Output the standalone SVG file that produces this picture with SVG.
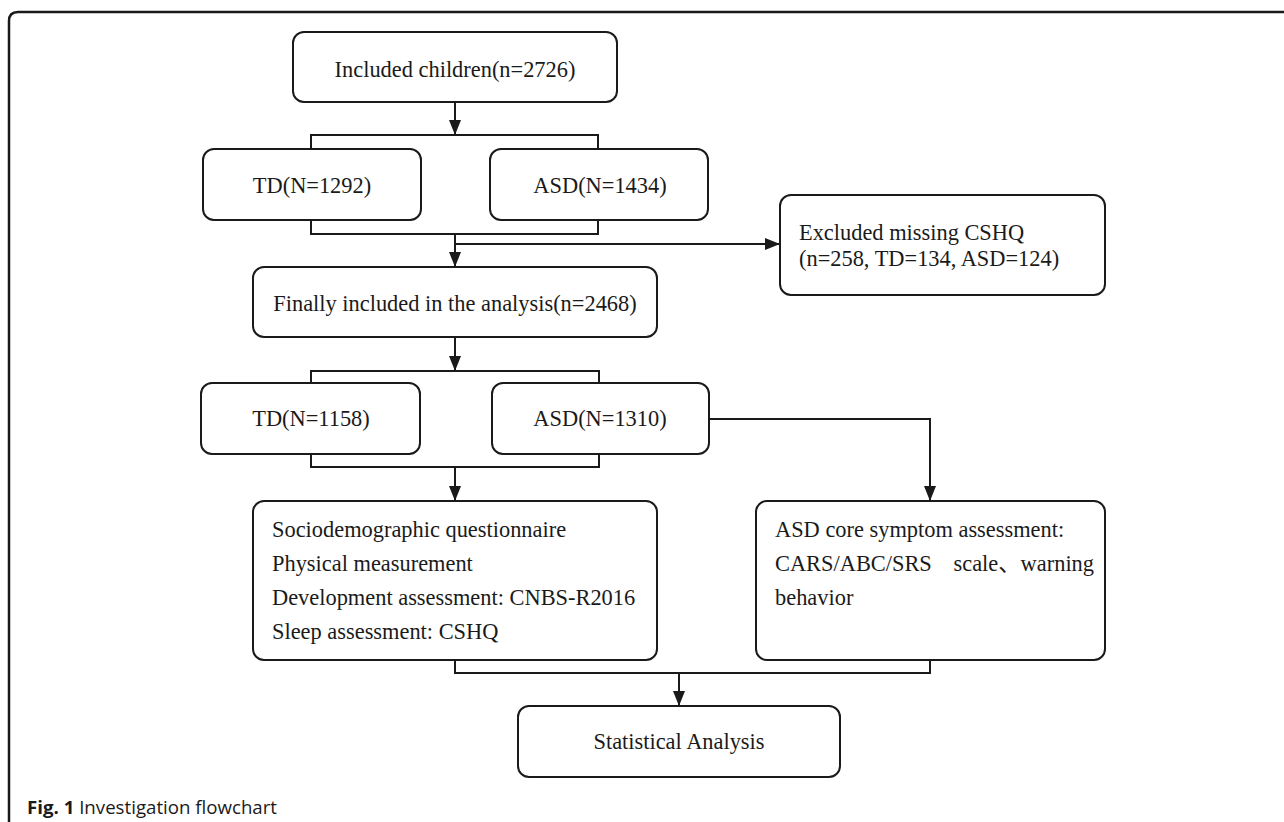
<svg xmlns="http://www.w3.org/2000/svg" width="1284" height="822" viewBox="0 0 1284 822">
<style>
.box{fill:#fff;stroke:#1a1a1a;stroke-width:2}
.t{font-family:"Liberation Serif","Times New Roman","Noto Sans CJK SC",serif;font-size:22.4px;fill:#1a1a1a}
.c{text-anchor:middle}
.ln{fill:none;stroke:#1a1a1a;stroke-width:2}
.cap{font-family:"Open Sans","Liberation Sans",sans-serif;font-size:17.5px;fill:#1a1a1a}
</style>
<defs>
<marker id="ah" markerUnits="userSpaceOnUse" markerWidth="15" markerHeight="12" refX="15" refY="6" orient="auto" viewBox="0 0 15 12">
<path d="M0,0 L15,6 L0,12 Z" fill="#1a1a1a"/>
</marker>
</defs>
<rect width="1284" height="822" fill="#fff"/>
<path d="M9,822 V21 Q9,12 18,12 H1284" fill="none" stroke="#1a1a1a" stroke-width="2.5"/>

<g id="connectors">
<path class="ln" d="M455,102 V135" marker-end="url(#ah)"/>
<path class="ln" d="M311,149 V135 H598 V149"/>
<path class="ln" d="M311,220 V234 H598 V220"/>
<path class="ln" d="M455,234 V267" marker-end="url(#ah)"/>
<path class="ln" d="M455,244 H780" marker-end="url(#ah)"/>
<path class="ln" d="M455,337 V371" marker-end="url(#ah)"/>
<path class="ln" d="M311,383 V371 H599 V383"/>
<path class="ln" d="M311,454 V467 H599 V454"/>
<path class="ln" d="M455,467 V501" marker-end="url(#ah)"/>
<path class="ln" d="M709,419 H930 V501" marker-end="url(#ah)"/>
<path class="ln" d="M455,660 V673 H930 V660"/>
<path class="ln" d="M679,673 V706" marker-end="url(#ah)"/>
</g>

<g id="included">
<rect class="box" x="293" y="32" width="324" height="70" rx="11"/>
<text class="t c" x="455" y="77">Included children(n=2726)</text>
</g>
<g id="td1">
<rect class="box" x="203" y="149" width="218" height="71" rx="11"/>
<text class="t c" x="312" y="193">TD(N=1292)</text>
</g>
<g id="asd1">
<rect class="box" x="490" y="149" width="218" height="71" rx="11"/>
<text class="t c" x="600" y="193">ASD(N=1434)</text>
</g>
<g id="excluded">
<rect class="box" x="780" y="195" width="325" height="100" rx="11"/>
<text class="t" x="799" y="240">Excluded missing CSHQ</text>
<text class="t" x="799" y="266">(n=258, TD=134, ASD=124)</text>
</g>
<g id="final">
<rect class="box" x="253" y="267" width="404" height="70" rx="11"/>
<text class="t c" x="455" y="311">Finally included in the analysis(n=2468)</text>
</g>
<g id="td2">
<rect class="box" x="201" y="383" width="219" height="71" rx="11"/>
<text class="t c" x="311" y="426">TD(N=1158)</text>
</g>
<g id="asd2">
<rect class="box" x="492" y="383" width="217" height="71" rx="11"/>
<text class="t c" x="600" y="426">ASD(N=1310)</text>
</g>
<g id="measures">
<rect class="box" x="253" y="501" width="404" height="159" rx="11"/>
<text class="t" x="272" y="537">Sociodemographic questionnaire</text>
<text class="t" x="272" y="571">Physical measurement</text>
<text class="t" x="272" y="605">Development assessment: CNBS-R2016</text>
<text class="t" x="272" y="639">Sleep assessment: CSHQ</text>
</g>
<g id="asdcore">
<rect class="box" x="756" y="501" width="349" height="159" rx="11"/>
<text class="t" x="775" y="537">ASD core symptom assessment:</text>
<text class="t" x="775" y="571">CARS/ABC/SRS</text>
<text class="t" x="1094" y="571" text-anchor="end">scale、warning</text>
<text class="t" x="775" y="605">behavior</text>
</g>
<g id="stat">
<rect class="box" x="518" y="706" width="322" height="71" rx="11"/>
<text class="t c" x="679" y="749">Statistical Analysis</text>
</g>
<text class="cap" x="27" y="814" textLength="250" lengthAdjust="spacingAndGlyphs"><tspan font-weight="bold">Fig. 1</tspan> Investigation flowchart</text>
</svg>
